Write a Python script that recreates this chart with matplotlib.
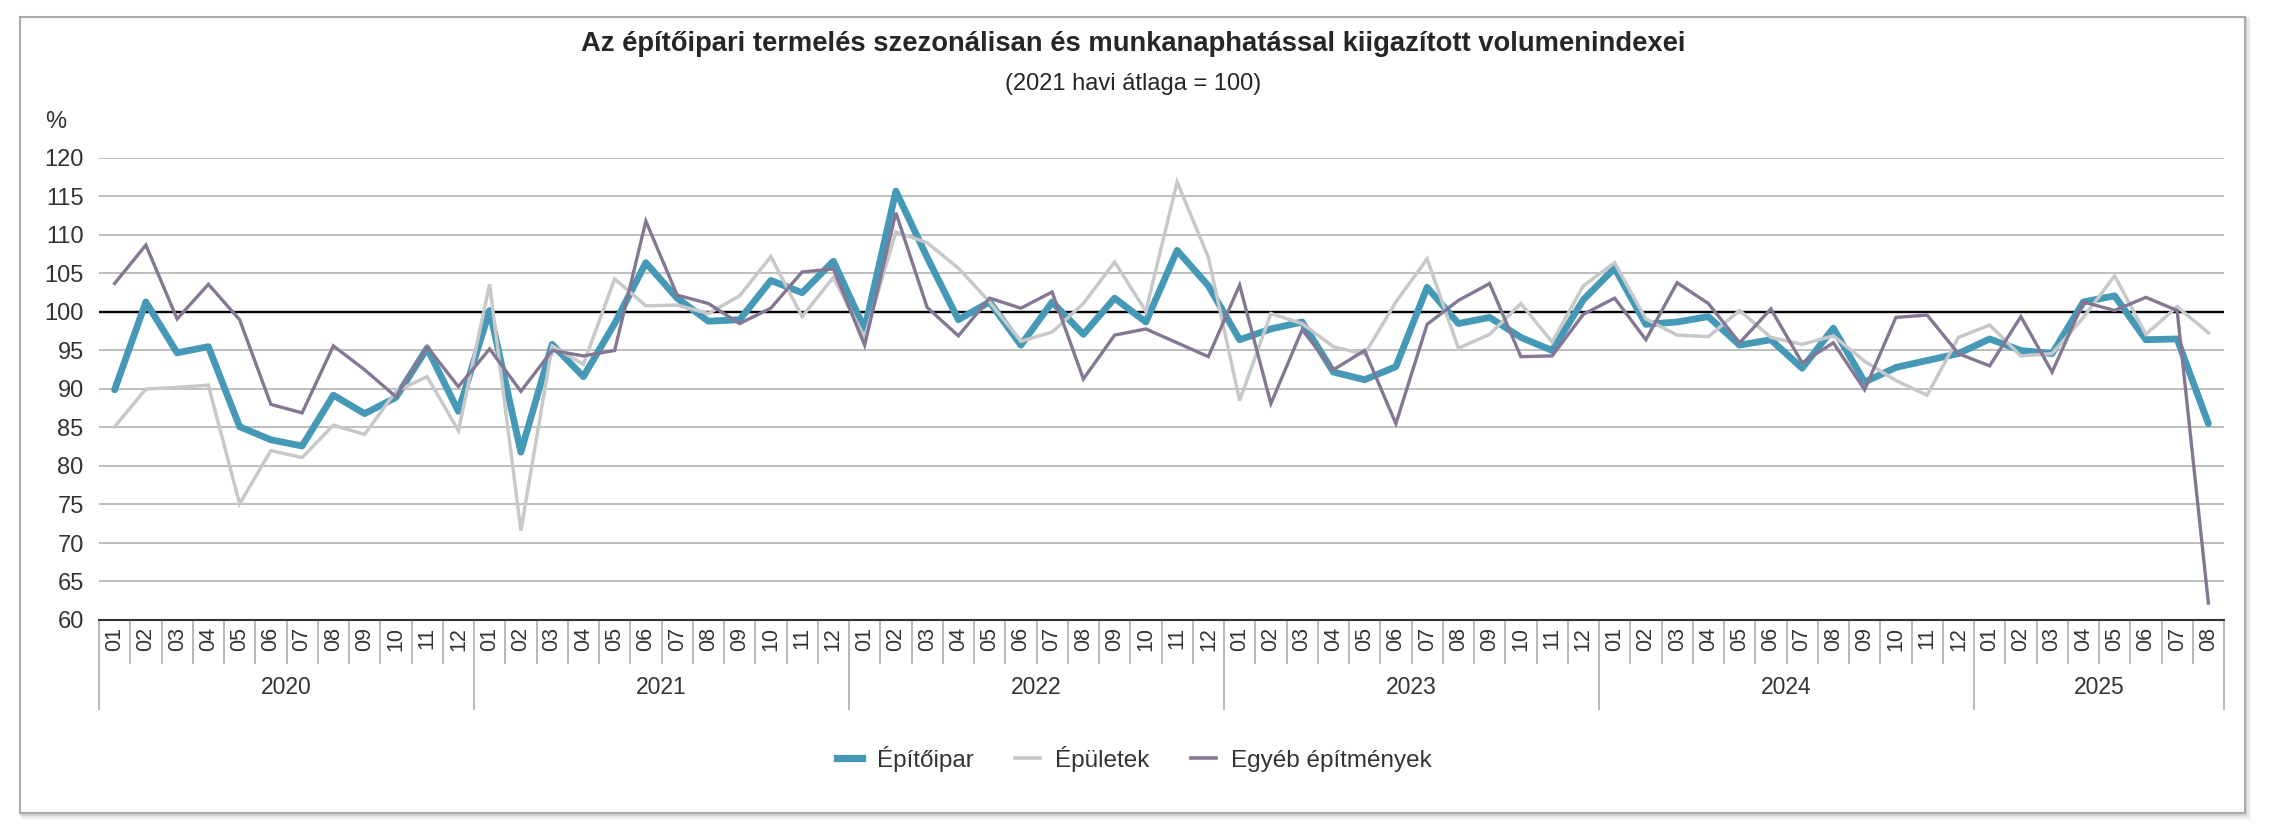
import matplotlib
matplotlib.use("Agg")
import matplotlib.pyplot as plt
import numpy as np
from matplotlib.lines import Line2D
from matplotlib.patches import Rectangle

plt.rcParams['font.family'] = ['Liberation Sans', 'DejaVu Sans']

# ---------------- data ----------------
years = ['2020', '2021', '2022', '2023', '2024', '2025']
months_per_year = [12, 12, 12, 12, 12, 8]
month_labels = [f"{m:02d}" for n in months_per_year for m in range(1, n + 1)]

epitoipar = [
    89.9, 101.3, 94.7, 95.5, 85.1, 83.4, 82.6, 89.2, 86.8, 88.9, 95.3, 87.1,
    100.2, 81.8, 95.8, 91.6, 98.5, 106.4, 101.8, 98.8, 99.0, 104.1, 102.5, 106.6,
    97.8, 115.7, 107.1, 99.0, 101.3, 95.7, 101.3, 97.1, 101.8, 98.7, 108.0, 103.4,
    96.4, 97.8, 98.7, 92.2, 91.2, 92.9, 103.2, 98.5, 99.3, 96.7, 95.0, 101.6,
    105.7, 98.4, 98.7, 99.4, 95.7, 96.4, 92.7, 97.9, 90.9, 92.8, 93.7, 94.6,
    96.5, 95.0, 94.6, 101.3, 102.1, 96.4, 96.5, 85.5,
]
epuletek = [
    85.1, 90.0, 90.2, 90.5, 75.1, 82.0, 81.1, 85.3, 84.1, 89.7, 91.6, 84.6,
    103.6, 71.6, 95.6, 93.2, 104.3, 100.8, 100.9, 99.8, 102.1, 107.2, 99.4, 104.5,
    96.7, 110.4, 109.0, 105.7, 101.3, 96.2, 97.4, 101.1, 106.5, 100.1, 116.9, 107.1,
    88.5, 99.8, 98.5, 95.5, 94.5, 101.3, 106.9, 95.3, 97.1, 101.1, 96.1, 103.4,
    106.4, 99.1, 97.0, 96.8, 100.2, 96.7, 95.8, 96.9, 93.6, 91.1, 89.2, 96.7,
    98.3, 94.3, 94.6, 99.3, 104.7, 97.1, 100.7, 97.3,
]
egyeb = [
    103.7, 108.7, 99.1, 103.6, 99.0, 88.0, 86.9, 95.6, 92.5, 89.0, 95.5, 90.3,
    95.2, 89.7, 95.0, 94.3, 95.0, 111.8, 102.2, 101.1, 98.5, 100.5, 105.2, 105.6,
    95.7, 112.9, 100.6, 96.9, 101.8, 100.5, 102.6, 91.3, 97.0, 97.8, 96.0, 94.2,
    103.5, 88.1, 97.7, 92.5, 95.0, 85.5, 98.4, 101.5, 103.7, 94.2, 94.3, 99.7,
    101.8, 96.4, 103.8, 101.1, 96.0, 100.4, 93.4, 96.0, 89.9, 99.3, 99.6, 94.6,
    93.0, 99.4, 92.2, 101.3, 100.2, 101.9, 100.2, 62.2,
]
series_names = ['Építőipar', 'Épületek', 'Egyéb építmények']
y_ticks = list(range(60, 125, 5))

title = 'Az építőipari termelés szezonálisan és munkanaphatással kiigazított volumenindexei'
subtitle = '(2021 havi átlaga = 100)'

# ---------------- style ----------------
C_BLUE = '#4599b7'
C_GRAY = '#c6c8ca'
C_PURPLE = '#857793'
C_TEXT = '#333333'
C_GRID = '#b3b3b3'

W, H = 2272, 836
fig = plt.figure(figsize=(W / 100, H / 100), dpi=100)
fig.patch.set_facecolor('white')

# frame with soft shadow
bx0, by0, bx1, by1 = 20, 17, 2245, 813
for k, a in zip([7, 5, 3], [0.10, 0.15, 0.25]):
    fig.patches.append(Rectangle(((bx0 - 1 + k * 0.4) / W, 1 - (by1 + k) / H),
                                 (bx1 - bx0 + k * 0.6) / W, (by1 - by0 + k) / H,
                                 transform=fig.transFigure, facecolor='#9a9a9a',
                                 edgecolor='none', alpha=a, zorder=-3))
fig.patches.append(Rectangle((bx0 / W, 1 - by1 / H), (bx1 - bx0) / W, (by1 - by0) / H,
                             transform=fig.transFigure, facecolor='white',
                             edgecolor='#ababab', lw=1.5, zorder=-2))

ax_l, ax_r, ax_t, ax_b = 99, 2224, 158, 620
ax = fig.add_axes([ax_l / W, 1 - ax_b / H, (ax_r - ax_l) / W, (ax_b - ax_t) / H])
ax.set_facecolor('none')

n = len(month_labels)
x = np.arange(n) + 0.5

ax.set_xlim(0, n)
ax.set_ylim(60, 120)

# gridlines
for yv in y_ticks:
    if yv == 100:
        ax.axhline(yv, color='black', lw=1.7, zorder=2)
    elif yv > 60:
        ax.axhline(yv, color=C_GRID, lw=1.2, zorder=1)

ax.plot(x, epitoipar, color=C_BLUE, lw=4.9, solid_joinstyle='round',
        solid_capstyle='round', zorder=3)
ax.plot(x, epuletek, color=C_GRAY, lw=2.5, solid_joinstyle='miter', zorder=4)
ax.plot(x, egyeb, color=C_PURPLE, lw=2.4, solid_joinstyle='miter', zorder=5)

for s in ['top', 'right', 'left']:
    ax.spines[s].set_visible(False)
ax.spines['bottom'].set_color('#333333')
ax.spines['bottom'].set_linewidth(1.5)
ax.spines['bottom'].set_zorder(6)

ax.set_yticks(y_ticks)
ax.set_yticklabels([str(v) for v in y_ticks], fontsize=17, color=C_TEXT)
ax.tick_params(axis='y', length=0, pad=11)

ax.set_xticks(x)
ax.set_xticklabels(month_labels, rotation=90, fontsize=15.5, color=C_TEXT)
ax.tick_params(axis='x', length=0, pad=5)

# category separators
ax_h = ax_b - ax_t
tr = ax.get_xaxis_transform()
month_bottom = -(664 - ax_b) / ax_h
year_bottom = -(710 - ax_b) / ax_h
starts = np.concatenate([[0], np.cumsum(months_per_year)])
sep_minor = [i for i in range(n + 1) if i not in starts]
ax.vlines(sep_minor, month_bottom, 0, transform=tr, colors=C_GRID, lw=1.3, clip_on=False)
ax.vlines(starts, year_bottom, 0, transform=tr, colors=C_GRID, lw=1.3, clip_on=False)

year_y = -(688 - ax_b) / ax_h
for yr, s0, s1 in zip(years, starts[:-1], starts[1:]):
    ax.text((s0 + s1) / 2, year_y, yr, transform=tr, ha='center', va='center',
            fontsize=16.5, color=C_TEXT)

# titles
fig.text(1133 / W, 1 - 44 / H, title, ha='center', va='center', fontsize=19.7,
         fontweight='bold', color='#262626')
fig.text(1133 / W, 1 - 84 / H, subtitle, ha='center', va='center', fontsize=17,
         color='#262626')
fig.text(45 / W, 1 - 122 / H, '%', ha='left', va='center', fontsize=17, color=C_TEXT)

handles = [Line2D([], [], color=C_BLUE, lw=5.2),
           Line2D([], [], color=C_GRAY, lw=2.6),
           Line2D([], [], color=C_PURPLE, lw=2.6)]
fig.legend(handles, series_names, loc='center', bbox_to_anchor=(1134 / W, 1 - 759 / H),
           ncol=3, frameon=False, fontsize=17.5, handlelength=1.05, handletextpad=0.6,
           columnspacing=1.7, labelcolor=C_TEXT)

fig.savefig('out.png', dpi=100, facecolor='white')
